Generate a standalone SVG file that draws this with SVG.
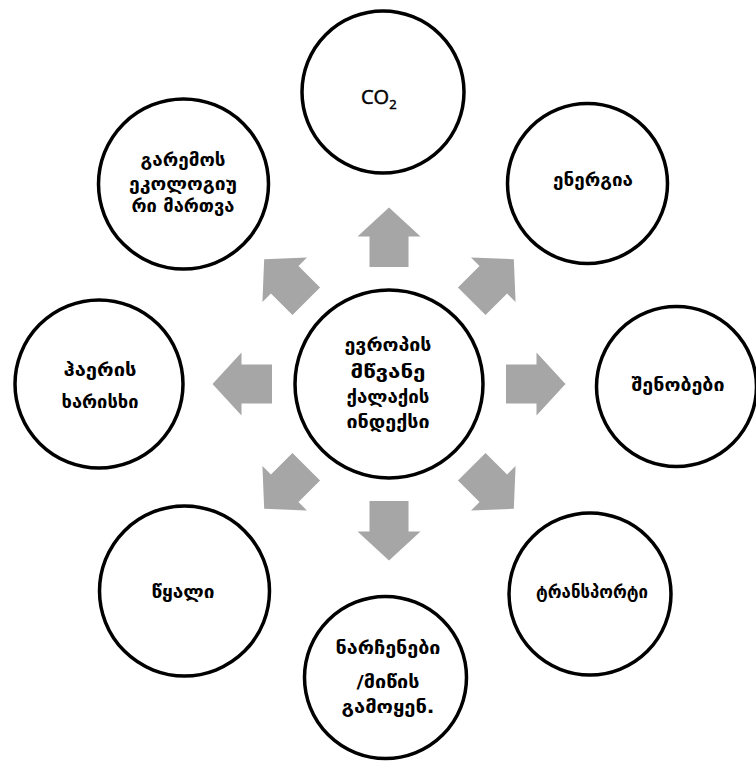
<svg xmlns="http://www.w3.org/2000/svg" width="756" height="763" viewBox="0 0 756 763">
<style>
.c{fill:#fff;stroke:#000;stroke-width:3.5}
.t{font-family:"DejaVu Sans","Noto Sans",sans-serif;font-size:18px;font-weight:bold;fill:#000;text-anchor:middle}
.e{font-family:"Open Sans","Liberation Sans",sans-serif;font-size:20px;fill:#000;stroke:#000;stroke-width:0.5}
.a{fill:#a6a6a6}
</style>
<defs>
<path id="arr" d="M0,-30 L31.5,-1 L19.5,-1 L19.5,29.5 L-19.5,29.5 L-19.5,-1 L-31.5,-1 Z"/>
</defs>
<rect width="756" height="763" fill="#fff"/>
<g id="connectors" class="a">
<use href="#arr" transform="translate(389,237.5)"/>
<use href="#arr" transform="translate(492.6,280.4) rotate(45)"/>
<use href="#arr" transform="translate(535.5,384) rotate(90)"/>
<use href="#arr" transform="translate(492.6,487.6) rotate(135)"/>
<use href="#arr" transform="translate(389,530.5) rotate(180)"/>
<use href="#arr" transform="translate(285.4,487.6) rotate(225)"/>
<use href="#arr" transform="translate(242.5,384) rotate(270)"/>
<use href="#arr" transform="translate(285.4,280.4) rotate(315)"/>
</g>
<g id="center">
<circle class="c" cx="389" cy="384" r="94"/>
<text class="t" x="388" y="351" textLength="87" lengthAdjust="spacingAndGlyphs">ევროპის</text>
<text class="t" x="388" y="378" textLength="75" lengthAdjust="spacingAndGlyphs">მწვანე</text>
<text class="t" x="388" y="403" textLength="83" lengthAdjust="spacingAndGlyphs">ქალაქის</text>
<text class="t" x="388" y="428" textLength="83" lengthAdjust="spacingAndGlyphs">ინდექსი</text>
</g>
<g id="co2">
<circle class="c" cx="383" cy="92" r="81"/>
<text class="e" x="361" y="104">CO<tspan font-size="13" dy="5">2</tspan></text>
</g>
<g id="energy">
<circle class="c" cx="587.5" cy="183.5" r="80"/>
<text class="t" x="593" y="186" textLength="80" lengthAdjust="spacingAndGlyphs">ენერგია</text>
</g>
<g id="buildings">
<circle class="c" cx="676.5" cy="386.5" r="80"/>
<text class="t" x="678" y="391" textLength="93" lengthAdjust="spacingAndGlyphs">შენობები</text>
</g>
<g id="transport">
<circle class="c" cx="590" cy="594" r="81"/>
<text class="t" x="592" y="598" textLength="112" lengthAdjust="spacingAndGlyphs">ტრანსპორტი</text>
</g>
<g id="waste">
<circle class="c" cx="385.5" cy="677.5" r="81"/>
<text class="t" x="388" y="654" textLength="105" lengthAdjust="spacingAndGlyphs">ნარჩენები</text>
<text class="t" x="388" y="688" textLength="63" lengthAdjust="spacingAndGlyphs">/მიწის</text>
<text class="t" x="388" y="713" textLength="93" lengthAdjust="spacingAndGlyphs">გამოყენ.</text>
</g>
<g id="water">
<circle class="c" cx="184.5" cy="591" r="85"/>
<text class="t" x="183" y="598" textLength="63" lengthAdjust="spacingAndGlyphs">წყალი</text>
</g>
<g id="air">
<circle class="c" cx="99" cy="384" r="84"/>
<text class="t" x="100" y="376" textLength="73" lengthAdjust="spacingAndGlyphs">ჰაერის</text>
<text class="t" x="100" y="408" textLength="77" lengthAdjust="spacingAndGlyphs">ხარისხი</text>
</g>
<g id="ecology">
<circle class="c" cx="183.5" cy="184" r="85"/>
<text class="t" x="183" y="166" textLength="85" lengthAdjust="spacingAndGlyphs">გარემოს</text>
<text class="t" x="183" y="190" textLength="108" lengthAdjust="spacingAndGlyphs">ეკოლოგიუ</text>
<text class="t" x="183" y="212" textLength="103" lengthAdjust="spacingAndGlyphs">რი მართვა</text>
</g>
</svg>
